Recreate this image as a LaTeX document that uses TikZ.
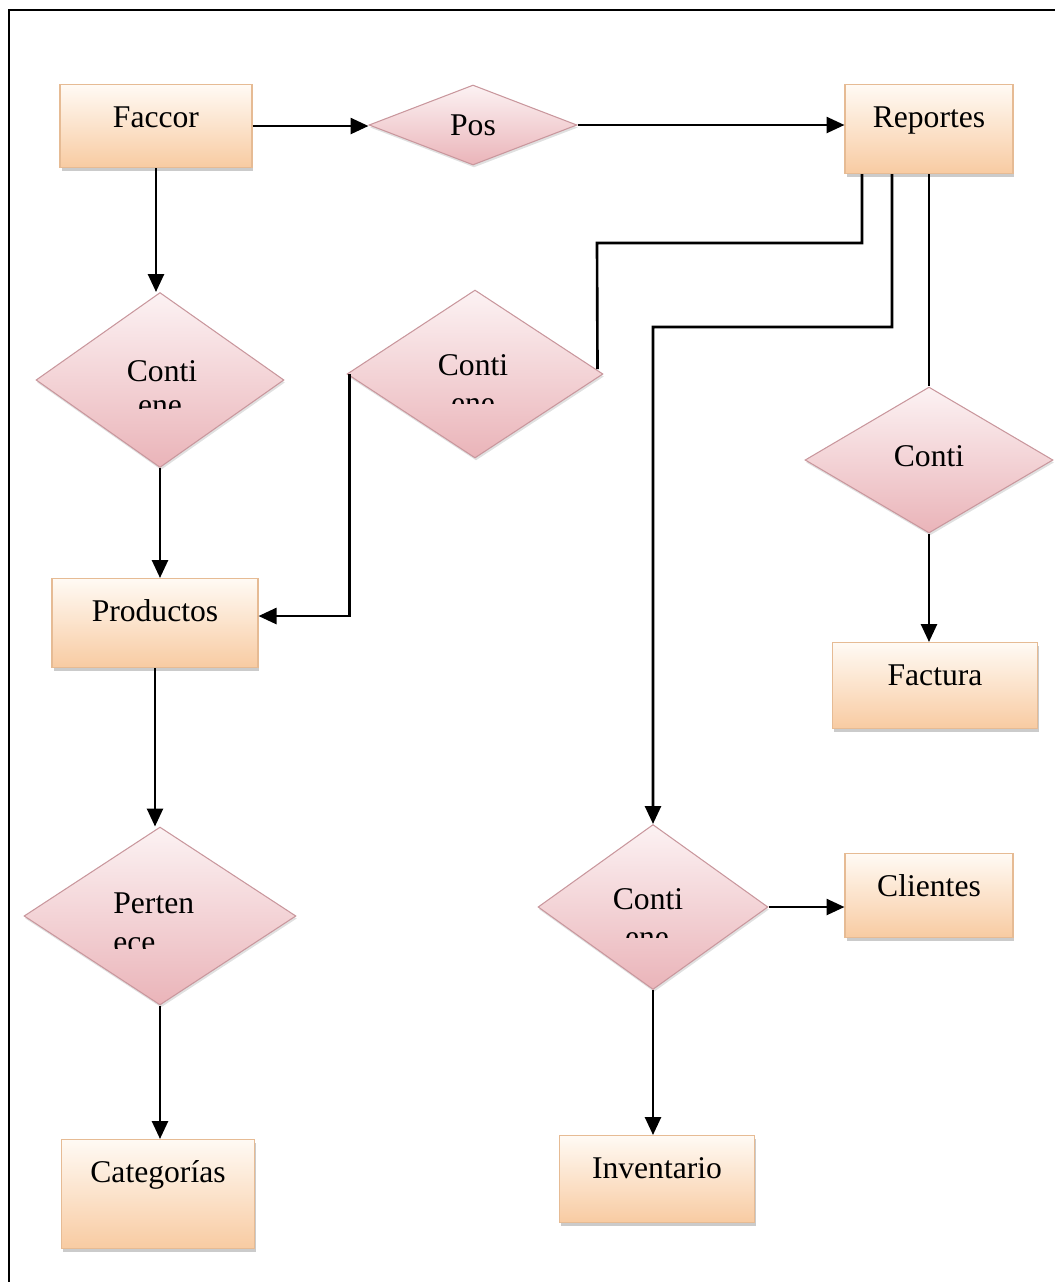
\documentclass[tikz,border=0pt]{standalone}
\usepackage{fontspec}
\setmainfont{Liberation Serif}
\usetikzlibrary{shapes.geometric, shadows, arrows.meta, calc}
\definecolor{boxtop}{HTML}{FFFAF4}
\definecolor{boxbottom}{HTML}{F8CBA2}
\definecolor{boxline}{HTML}{E6BB94}
\definecolor{rombotop}{HTML}{FCF2F3}
\definecolor{rombobottom}{HTML}{EAB4B9}
\definecolor{romboline}{HTML}{C9979D}
\tikzset{
    entidad/.style={rectangle, draw=boxline, line width=0.6pt, top color=boxtop,
      bottom color=boxbottom, inner sep=0pt, text height=0.86cm, anchor=north,
      font=\fontsize{18}{20}\selectfont,
      drop shadow={shadow xshift=0.03cm, shadow yshift=-0.06cm, fill=black!45, opacity=0.45}},
    relacion/.style={diamond, draw=romboline, line width=0.6pt, top color=rombotop,
      bottom color=rombobottom, inner sep=0pt, font=\fontsize{18}{20}\selectfont,
      drop shadow={shadow xshift=0.02cm, shadow yshift=-0.05cm, fill=black!35, opacity=0.35}},
    rotulo/.style={anchor=base, inner sep=0pt, font=\fontsize{18}{20}\selectfont},
    flecha/.style={line width=1.5pt, -{Triangle[length=0.36cm, width=0.32cm]}},
    linea/.style={line width=1.5pt}
}

\begin{document}
\begin{tikzpicture}[x=0.02cm, y=-0.02cm]
    \useasboundingbox (0,0) rectangle (1055,1282);
    \draw [linea] (9,1282) -- (9,10) -- (1055,10);

    % entidades
    \node [entidad, minimum width=3.84cm, text depth=0.80cm] (faccor) at (156,84) {Faccor};
    \node [entidad, minimum width=3.36cm, text depth=0.92cm] (reportes) at (929,84) {Reportes};
    \node [entidad, minimum width=4.12cm, text depth=0.92cm] (productos) at (155,578) {Productos};
    \node [entidad, minimum width=4.10cm, text depth=0.86cm] (factura) at (935,642) {Factura};
    \node [entidad, minimum width=3.36cm, text depth=0.82cm] (clientes) at (929,853) {Clientes};
    \node [entidad, minimum width=3.86cm, text depth=1.32cm] (categorias) at (158,1139) {Categorías};
    \node [entidad, minimum width=3.90cm, text depth=0.88cm] (inventario) at (657,1135) {Inventario};

    % relaciones
    \node [relacion, minimum width=4.16cm, minimum height=1.6cm] (pos) at (473,125) {Pos};
    \node [relacion, minimum width=4.96cm, minimum height=3.5cm] (contiA) at (160,380) {};
    \node [relacion, minimum width=5.12cm, minimum height=3.36cm] (contiB) at (475,374) {};
    \node [relacion, minimum width=4.96cm, minimum height=2.92cm] (contiC) at (929,460) {};
    \node [relacion, minimum width=4.60cm, minimum height=3.3cm] (contiD) at (653,907) {};
    \node [relacion, minimum width=5.44cm, minimum height=3.56cm] (pertenece) at (160,916) {};

    \node [rotulo] (contiAt) at (162,381) {Conti};
    \node [rotulo] (contiBt) at (473,375) {Conti};
    \node [rotulo] (contiCt) at (929,466) {Conti};
    \node [rotulo] (contiDt) at (648,909) {Conti};
    \node [rotulo, anchor=base west] (pertenecet) at (113,913) {Perten};

    % segunda linea cortada
    \begin{scope}
      \clip (60,385) rectangle (260,408);
      \node [rotulo] (contiAb) at (160,415) {ene};
    \end{scope}
    \begin{scope}
      \clip (380,385) rectangle (570,403);
      \node [rotulo] (contiBb) at (473,413) {ene};
    \end{scope}
    \begin{scope}
      \clip (560,915) rectangle (740,937);
      \node [rotulo] (contiDb) at (647,947) {ene};
    \end{scope}
    \begin{scope}
      \clip (60,925) rectangle (260,948);
      \node [rotulo, anchor=base west] (pertenceb) at (113,952) {ece};
    \end{scope}

    % conectores
    \draw [flecha] (faccor.east) -- (faccor.east -| pos.west);
    \draw [flecha] (pos.east) -- (pos.east -| reportes.west);
    \draw [flecha] (faccor.south) -- (faccor.south |- contiA.north);
    \draw [flecha] (contiA.south) -- (contiA.south |- productos.north);
    \draw [flecha] (productos.south) -- (productos.south |- pertenece.north);
    \draw [flecha] (pertenece.south) -- (pertenece.south |- categorias.north);

    \draw [linea] ([xshift=-1.34cm]reportes.south) |- (597,243) -- ([xshift=-0.12cm, yshift=0.1cm]contiB.east);
    \draw [flecha] ([xshift=0.06cm]contiB.west) |- ([yshift=0.14cm]productos.east);

    \draw [flecha] ([xshift=-0.74cm]reportes.south) -- (892,327) -| (contiD.north);

    \draw [linea] (contiC.north |- reportes.south) -- (contiC.north);
    \draw [flecha] (contiC.south) -- (contiC.south |- factura.north);

    \draw [flecha] (contiD.east) -- (contiD.east -| clientes.west);
    \draw [flecha] (contiD.south) -- (contiD.south |- inventario.north);
\end{tikzpicture}
\end{document}
